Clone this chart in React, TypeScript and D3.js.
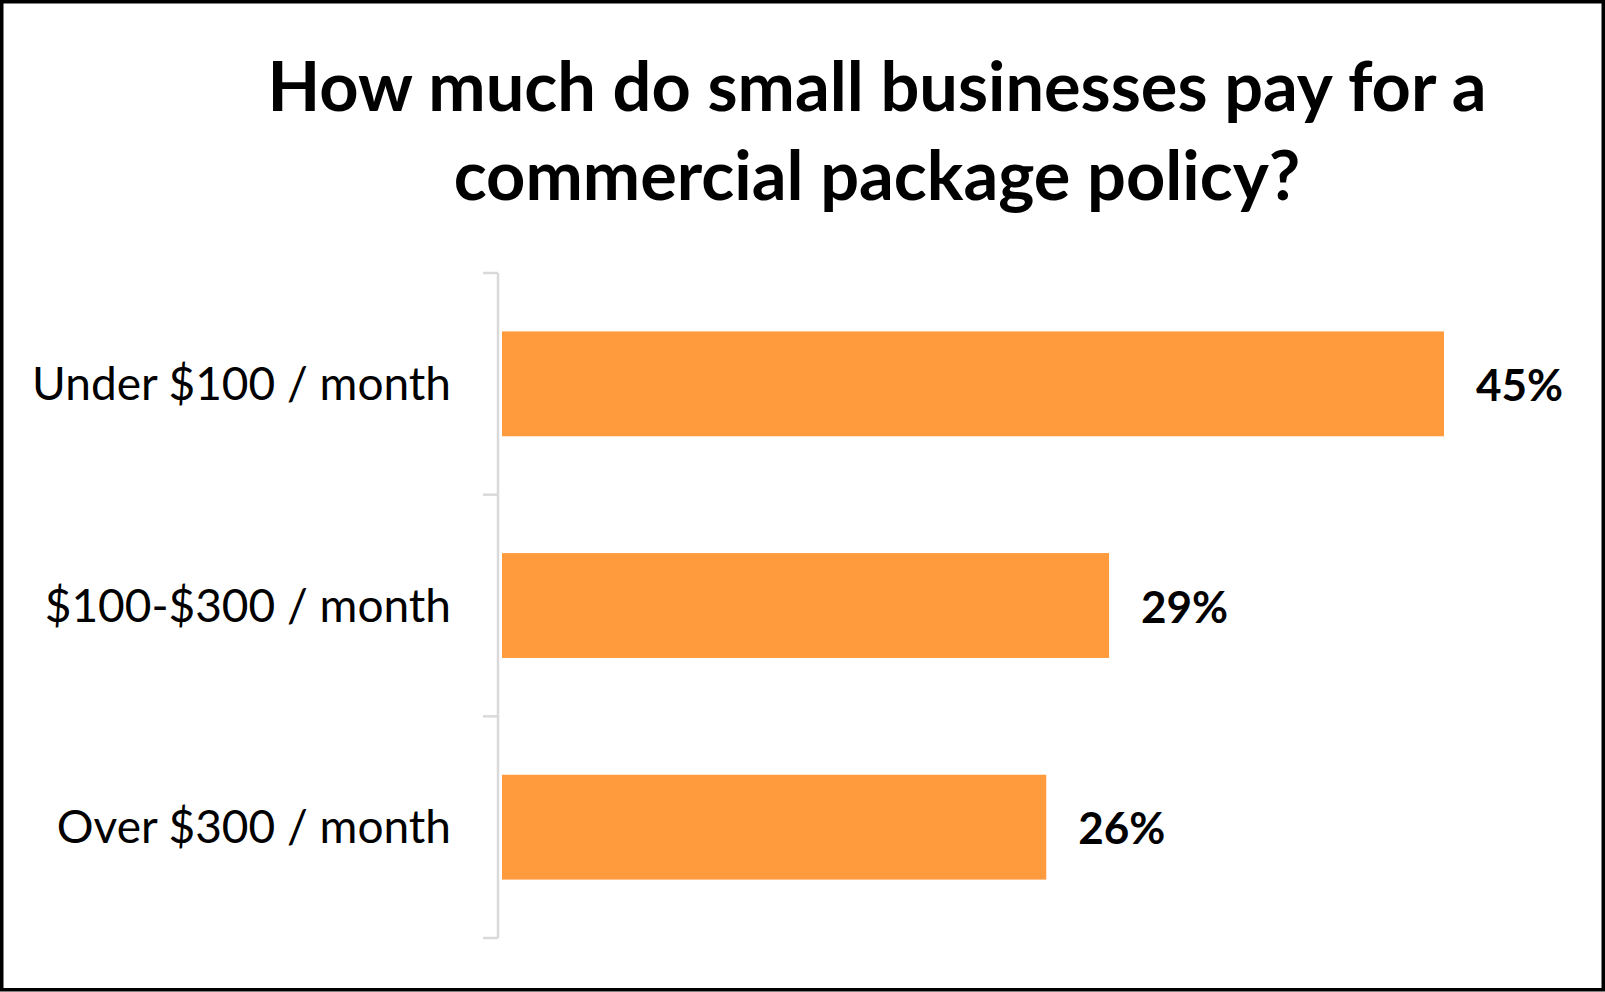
import * as d3 from "d3";

// chart data
const categories = ["Under $100 / month", "$100-$300 / month", "Over $300 / month"];
const shares = [45, 29, 26];
const titleLines = ["How much do small businesses pay for a", "commercial package policy?"];

const W = 1605;
const H = 992;
const FONT = "Lato, 'Open Sans', sans-serif";

const App = () => {
  const margin = { top: 273, left: 498, bottom: 54 };
  const plotH = H - margin.top - margin.bottom;

  const y = d3
    .scaleBand<string>()
    .domain(categories)
    .range([0, plotH])
    .paddingInner(0.527)
    .paddingOuter(0.2635);

  const x = d3.scaleLinear().domain([0, 45]).range([0, 942]);

  // tick positions at band edges, like the spreadsheet axis
  const step = plotH / categories.length;
  const ticks = d3.range(categories.length + 1).map((i) => i * step);

  return (
    <svg
      width={W}
      height={H}
      style={{ position: "absolute", left: 0, top: 0, display: "block", background: "#fff" }}
    >
      <rect x={1.75} y={1.75} width={W - 3.5} height={H - 4} fill="#fff" stroke="#000" strokeWidth={3.5} />

      {/* Title */}
      <text fontFamily={FONT} fontWeight={700} fontSize={68.5} textAnchor="middle" fill="#000">
        {titleLines.map((t, i) => (
          <tspan key={t} x={877} y={111 + i * 89}>
            {t}
          </tspan>
        ))}
      </text>

      <g transform={`translate(${margin.left},${margin.top})`}>
        {/* axis */}
        <line x1={0} x2={0} y1={0} y2={plotH} stroke="#d9d9d9" strokeWidth={2.5} />
        {ticks.map((t, i) => (
          <line key={i} x1={-15} x2={0} y1={t} y2={t} stroke="#d9d9d9" strokeWidth={2.5} />
        ))}

        {categories.map((c, i) => {
          const by = y(c) ?? 0;
          const cy = by + y.bandwidth() / 2;
          return (
            <g key={c}>
              <rect x={4} y={by} width={x(shares[i])} height={y.bandwidth()} fill="#FF9A3D" />
              <text
                x={-47}
                y={cy + 16}
                textAnchor="end"
                fontFamily={FONT}
                fontSize={46}
                fill="#000"
              >
                {c}
              </text>
              <text
                x={4 + x(shares[i]) + 32}
                y={cy + 17}
                fontFamily={FONT}
                fontWeight={700}
                fontSize={44}
                fill="#000"
              >
                {shares[i]}%
              </text>
            </g>
          );
        })}
      </g>
    </svg>
  );
};

export default App;
